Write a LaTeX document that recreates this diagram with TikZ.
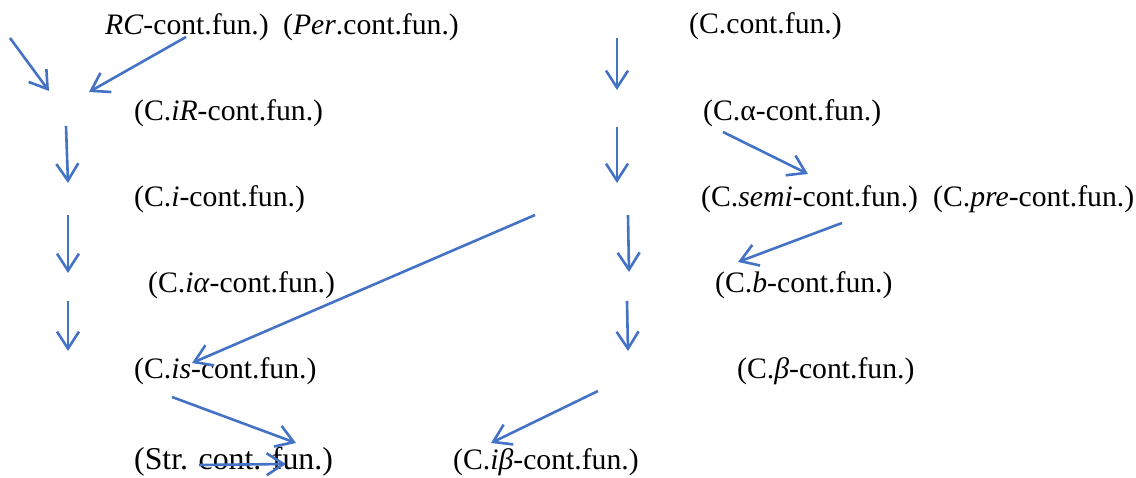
\documentclass[tikz,border=0pt]{standalone}
\usepackage{fontspec}
\setmainfont{Liberation Serif}
\usetikzlibrary{arrows.meta}
\definecolor{arrowblue}{HTML}{4472C4}
\tikzset{
  lbl/.style={anchor=base west, inner sep=0pt, font=\fontsize{29.7}{32}\selectfont},
  lblbig/.style={anchor=base west, inner sep=0pt, font=\fontsize{31.8}{34}\selectfont},
  arr/.style={draw=arrowblue, line width=2.6pt, -{Straight Barb[length=17pt,width=22pt,line width=2.6pt]}}
}
\begin{document}
\begin{tikzpicture}[x=1pt,y=-1pt]
\useasboundingbox (0,0) rectangle (1136,478);
% text nodes
\node[lbl] (rc)   at (105,35)  {\textit{RC}-cont.fun.)};
\node[lbl] (per)  at (283,35)  {(\textit{Per}.cont.fun.)};
\node[lbl] (cc)   at (689,34)  {(C.cont.fun.)};
\node[lbl] (cir)  at (134,121) {(C.\textit{iR}-cont.fun.)};
\node[lbl] (calp) at (703,121) {(C.α-cont.fun.)};
\node[lbl] (ci)   at (134,207) {(C.\textit{i}-cont.fun.)};
\node[lbl] (csem) at (701,207) {(C.\textit{semi}-cont.fun.)};
\node[lbl] (cpre) at (933,207) {(C.\textit{pre}-cont.fun.)};
\node[lbl] (cia)  at (148,293) {(C.\textit{iα}-cont.fun.)};
\node[lbl] (cb)   at (715,293) {(C.\textit{b}-cont.fun.)};
\node[lbl] (cis)  at (134,379) {(C.\textit{is}-cont.fun.)};
\node[lbl] (cbet) at (737,379) {(C.\textit{β}-cont.fun.)};
\node[lblbig] (str) at (134,469) {(Str. cont. fun.)};
\node[lbl] (cib)  at (453,469) {(C.\textit{iβ}-cont.fun.)};
% arrow end points
\coordinate (a1s) at (10,38);   \coordinate (a1e) at (49,91);
\coordinate (a2s) at (186,37);  \coordinate (a2e) at (89,92);
\coordinate (a3s) at (617,38);  \coordinate (a3e) at (617,90);
\coordinate (a4s) at (66,126);  \coordinate (a4e) at (68,183);
\coordinate (a5s) at (68,215);  \coordinate (a5e) at (68,273);
\coordinate (a6s) at (68,301);  \coordinate (a6e) at (68,351);
\coordinate (a7s) at (617,127); \coordinate (a7e) at (617,183);
\coordinate (a8s) at (628,215); \coordinate (a8e) at (629,272);
\coordinate (a9s) at (627,301); \coordinate (a9e) at (628,351);
\coordinate (a10s) at (723,132); \coordinate (a10e) at (808,174);
\coordinate (a11s) at (842,223); \coordinate (a11e) at (738,262);
\coordinate (a12s) at (535,215); \coordinate (a12e) at (192,363);
\coordinate (a13s) at (172,397); \coordinate (a13e) at (296,443);
\coordinate (a14s) at (199,465); \coordinate (a14e) at (286,464);
\coordinate (a15s) at (598,391); \coordinate (a15e) at (491,443);
% arrows
\foreach \i in {1,...,15}{
  \draw[arr] (a\i s) -- (a\i e);
}
\end{tikzpicture}
\end{document}
